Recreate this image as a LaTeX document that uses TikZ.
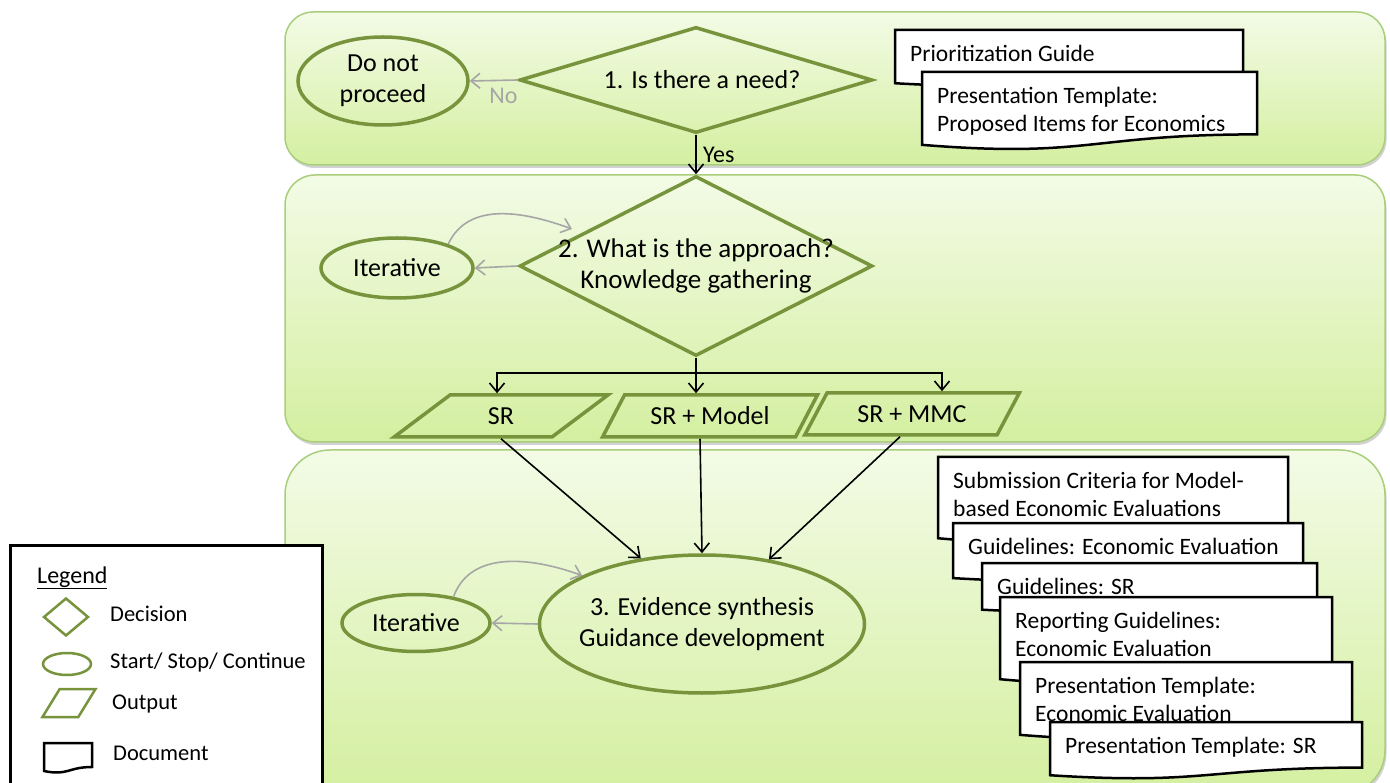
\documentclass[tikz,border=0pt]{standalone}
\usepackage{fontspec}
\setmainfont{Carlito}
\usetikzlibrary{positioning,calc,shapes.geometric,arrows.meta,shadows}
\definecolor{olivegreen}{RGB}{119,147,60}
\definecolor{paneltop}{RGB}{243,251,230}
\definecolor{panelbottom}{RGB}{212,239,160}
\definecolor{panelline}{RGB}{169,207,124}
\definecolor{softgray}{RGB}{166,166,166}

\begin{document}
\begin{tikzpicture}[
	x=1pt, y=-1pt,
	font=\fontsize{26}{31}\selectfont,
	>={Straight Barb[length=9pt,width=15pt]},
	% panels with light green gradient
	panel/.style={
		draw=panelline, line width=1.5pt, top color=paneltop, bottom color=panelbottom,
		drop shadow={shadow xshift=1.5pt, shadow yshift=-3pt, opacity=0.35}
	},
	% flowchart shapes
	decision/.style={diamond, draw=olivegreen, line width=3.5pt, inner sep=0pt, align=center},
	terminal/.style={ellipse, draw=olivegreen, line width=3.5pt, inner sep=0pt, align=center},
	output/.style={
		trapezium, trapezium left angle=50, trapezium right angle=130, trapezium stretches=true,
		draw=olivegreen, line width=3.5pt, inner sep=0pt, minimum width=215pt, minimum height=42pt
	},
	% connectors
	flow/.style={->, line width=1.6pt, black},
	loop/.style={->, line width=1.6pt, softgray},
	% documents
	docbox/.style={fill=white, draw=black, line width=2.5pt},
	doctext/.style={font=\fontsize{23.5}{28}\selectfont, align=left, inner sep=0pt, anchor=north west},
	keytext/.style={font=\fontsize{22.5}{27}\selectfont, anchor=west, inner sep=0pt}
	]
	
	\useasboundingbox (0,0) rectangle (1390,783);
	\fill[white] (0,0) rectangle (1390,783);
	
	% --- panels ---
	\path[panel, rounded corners=28pt] (285,12) rectangle (1385,165);
	\path[panel, rounded corners=30pt] (285,175) rectangle (1385,442);
	\path[panel, rounded corners=45pt] (285,450) rectangle (1385,795);
	
	% --- documents ---
	\foreach \xa/\ya/\xb/\yb/\txt [count=\i] in {
		895/30/1243/87/{Prioritization Guide},
		922/72/1257/150/{Presentation Template:\\Proposed Items for Economics},
		938/457/1288/544/{Submission Criteria for Model-\\based Economic Evaluations},
		953/523/1303/582/{Guidelines: Economic Evaluation},
		982/563/1317/613/{Guidelines: SR},
		1000/597/1332/685/{Reporting Guidelines:\\Economic Evaluation},
		1020/662/1352/740/{Presentation Template:\\Economic Evaluation},
		1050/722/1362/779/{Presentation Template: SR}
	}{
		\filldraw[docbox] (\xa,\ya) -- (\xb,\ya) -- (\xb,{\ya+0.8*(\yb-\ya)})
		.. controls ({(\xa+\xb)/2},{\ya+0.8*(\yb-\ya)}) and ({(\xa+\xb)/2},{\ya+1.107*(\yb-\ya)})
		.. (\xa,{\ya+0.934*(\yb-\ya)}) -- cycle;
		\node[doctext] (doc\i) at (\xa+15,\ya+15) {\txt};
	}
	
	% --- step 1 ---
	\node[terminal, minimum width=170pt, minimum height=88pt] (stop) at (383,81) {Do not\\proceed};
	\node[decision, minimum width=353pt, minimum height=106pt,
	label={[xshift=6pt]center:1. Is there a need?}] (need) at (696,80) {};
	
	% --- step 2 ---
	\node[decision, minimum width=353pt, minimum height=180pt,
	label={[align=center, font=\fontsize{27}{31}\selectfont]center:2. What is the approach?\\Knowledge gathering}] (approach) at (696,266) {};
	\node[terminal, minimum width=152pt, minimum height=60pt] (iter1) at (397,268) {Iterative};
	\node[output] (sr) at (501,416) {SR};
	\node[output] (srmodel) at (710,416) {SR + Model};
	\node[output] (srmmc) at (912,414) {SR + MMC};
	
	% --- step 3 ---
	\node[terminal, minimum width=325pt, minimum height=138pt,
	label={[align=center]center:3. Evidence synthesis\\Guidance development}] (synth) at (702,624) {};
	\node[terminal, minimum width=148pt, minimum height=57pt] (iter2) at (416,623) {Iterative};
	
	% --- connectors ---
	\draw[loop] (need.west) -- (stop.east)
	node[pos=0.3, below=4pt, text=softgray, font=\fontsize{24}{28}\selectfont] (nolabel) {No};
	\draw[flow] (need.south) -- (approach.north)
	node[midway, right=3pt, font=\fontsize{24}{28}\selectfont] (yeslabel) {Yes};
	
	\draw[loop] (approach.west) -- (iter1.east);
	\coordinate (approachtip) at (572,229);
	\draw[loop] (iter1.25) to[out=65,in=160] (approachtip);
	
	\coordinate (fork) at ($(approach.south)+(0,15)$);
	\draw[line width=1.6pt] (approach.south) -- (fork);
	\draw[flow] (fork) -| ([xshift=-4pt]sr.north);
	\draw[flow] (fork) -- (fork |- srmodel.north);
	\draw[flow] (fork) -| ([xshift=30pt]srmmc.north);
	
	\draw[flow] (sr.south) -- (synth.133);
	\draw[flow] ([xshift=-10pt]srmodel.south) -- (synth.north);
	\draw[flow] ([xshift=-12pt]srmmc.south) -- (synth.44);
	
	\draw[loop] (synth.west) -- (iter2.east);
	\draw[loop] (iter2.35) to[out=70,in=160] (synth.158);
	
	% --- legend ---
	\draw[line width=3pt, fill=white] (10,545) rectangle (322,800);
	\node[anchor=base west, inner sep=0pt, font=\fontsize{24}{28}\selectfont] (legendtitle) at (37,583) {\underline{Legend}};
	\node[decision, minimum width=45pt, minimum height=38pt, line width=2.5pt] (keydecision) at (66,617) {};
	\node[terminal, minimum width=48pt, minimum height=22pt, line width=2.5pt] (keyterminal) at (67,664) {};
	\node[output, minimum width=53pt, minimum height=28pt, line width=2.5pt, font=\fontsize{10}{10}\selectfont] (keyoutput) at (69,703) {\phantom{x}};
	\filldraw[docbox] (44,743) -- (92,743) -- (92,767)
	.. controls (68,767) and (68,776) .. (44,771) -- cycle;
	\node[keytext] (keydecisiontext) at (110,614) {Decision};
	\node[keytext] (keyterminaltext) at (110,662) {Start/ Stop/ Continue};
	\node[keytext] (keyoutputtext) at (112,704) {Output};
	\node[keytext] (keydoctext) at (113,753) {Document};
\end{tikzpicture}
\end{document}
